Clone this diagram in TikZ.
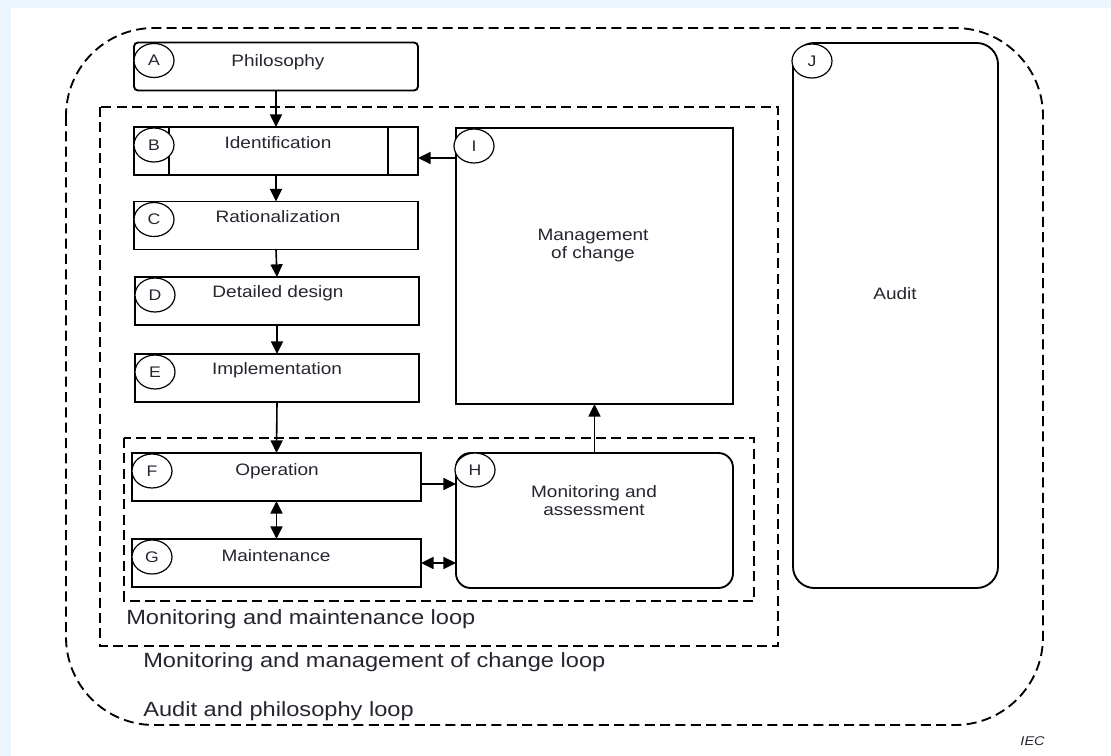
\documentclass[tikz,border=0pt]{standalone}
\usepackage{fontspec}
\setmainfont{Liberation Sans}[FakeStretch=1.15]
\usetikzlibrary{shapes.geometric,arrows.meta,calc}
\definecolor{pagebg}{RGB}{235,245,253}
\definecolor{inkgray}{RGB}{38,38,48}
\begin{document}
\begin{tikzpicture}[x=0.75pt,y=-0.75pt,
  box/.style={draw, line width=1.4pt, fill=white, inner sep=0pt, outer sep=0pt,
    minimum width=213pt, minimum height=36pt},
  tag/.style={ellipse, draw, line width=0.9pt, fill=white, inner sep=0pt,
    minimum width=30pt, minimum height=25.5pt, text=inkgray,
    font=\fontsize{11.5pt}{13pt}\selectfont},
  lbl/.style={anchor=base, inner sep=0pt, text=inkgray,
    font=\fontsize{12.4pt}{13.5pt}\selectfont},
  looplbl/.style={anchor=base west, inner sep=0pt, text=inkgray,
    font=\fontsize{15.4pt}{18pt}\selectfont},
  loopline/.style={draw, line width=1.4pt, dash pattern=on 7.5pt off 4pt},
  flow/.style={line width=1.2pt, -{Triangle[length=9.5pt,width=9pt]}},
  flowboth/.style={line width=1.2pt, {Triangle[length=9.5pt,width=9pt]}-{Triangle[length=9.5pt,width=9pt]}}
]
% page
\fill[pagebg] (0,0) rectangle (1111,756);
\fill[white] (11,8) rectangle (1111,756);
\useasboundingbox (0,0) rectangle (1111,756);

% loops
\draw[loopline, rounded corners=66pt] (66,28) rectangle (1043,725);
\draw[loopline] (100,107) rectangle (778,646);
\draw[loopline] (124,438) rectangle (754,601);

% boxes
\node (a) [box, rounded corners=3pt] at (276,66.5) {};
\node (b) [box] at (276,151) {};
\node (c) [box] at (276,225.5) {};
\node (d) [box] at (277,301) {};
\node (e) [box] at (277,378) {};
\node (f) [box, minimum width=216.75pt] at (276.5,477) {};
\node (g) [box, minimum width=216.75pt] at (276.5,563) {};
\node (h) [box, rounded corners=11pt, minimum width=207.75pt, minimum height=101.25pt] at (594.5,520.5) {};
\node (i) [box, minimum width=207.75pt, minimum height=207pt] at (594.5,266) {};
\node (j) [box, rounded corners=16pt, minimum width=153.75pt, minimum height=408.75pt] at (895.5,315.5) {};
\draw[line width=1.4pt] ($(b.north west)+(35,0)$) -- ($(b.south west)+(35,0)$);
\draw[line width=1.4pt] ($(b.north east)+(-30,0)$) -- ($(b.south east)+(-30,0)$);

% tags
\node (a-tag) [tag] at ($(a.north west)+(20,18)$) {A};
\node (b-tag) [tag] at ($(b.north west)+(20,18)$) {B};
\node (c-tag) [tag] at ($(c.north west)+(20,18)$) {C};
\node (d-tag) [tag] at ($(d.north west)+(20,18)$) {D};
\node (e-tag) [tag] at ($(e.north west)+(20,18)$) {E};
\node (f-tag) [tag] at ($(f.north west)+(20,18)$) {F};
\node (g-tag) [tag] at ($(g.north west)+(20,18)$) {G};
\node (h-tag) [tag] at ($(h.north west)+(19,17)$) {H};
\node (i-tag) [tag] at ($(i.north west)+(18,18)$) {I};
\node (j-tag) [tag] at ($(j.north west)+(19,18)$) {J};

% texts
\node (a-txt) [lbl] at (278,67) {Philosophy};
\node (b-txt) [lbl] at (278,149) {Identification};
\node (c-txt) [lbl] at (278,223) {Rationalization};
\node (d-txt) [lbl] at (278,297) {Detailed design};
\node (e-txt) [lbl] at (277,374) {Implementation};
\node (f-txt) [lbl] at (277,475) {Operation};
\node (g-txt) [lbl] at (276,561) {Maintenance};
\node (h-txt) [lbl, anchor=center, align=center] at (594,501) {Monitoring and\\assessment};
\node (i-txt) [lbl, anchor=center, align=center] at (593,246) {Management\\of change};
\node (j-txt) [lbl] at (895,300) {Audit};

\node (loop-mm) [looplbl] at (126,624) {Monitoring and maintenance loop};
\node (loop-mc) [looplbl] at (143,667) {Monitoring and management of change loop};
\node (loop-ap) [looplbl] at (143,716) {Audit and philosophy loop};
\node (iec) [anchor=base east, inner sep=0pt, text=inkgray,
  font=\itshape\fontsize{9.5pt}{11pt}\selectfont] at (1045,745) {IEC};

% connectors
\coordinate (fh) at ($(f.east)+(0,7)$);
\coordinate (bi) at ($(b.east)+(0,7)$);
\draw[flow] (a.south) -- (b.north);
\draw[flow] (b.south) -- (c.north);
\draw[flow] (c.south) -- (d.north);
\draw[flow] (d.south) -- (e.north);
\draw[flow] (e.south) -- (f.north);
\draw[flowboth] (f.south) -- (g.north);
\draw[flow] (fh) -- (fh -| h.west);
\draw[flowboth] (g.east) -- (g.east -| h.west);
\draw[flow] (h.north) -- (i.south);
\draw[flow] (bi -| i.west) -- (bi);
\end{tikzpicture}
\end{document}
